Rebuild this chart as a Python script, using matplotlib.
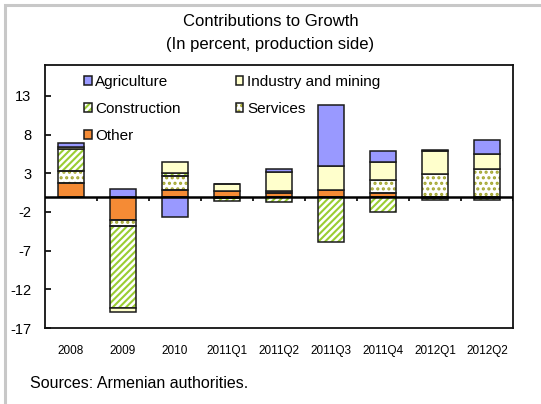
import matplotlib
matplotlib.use("Agg")
import matplotlib.pyplot as plt
from matplotlib.patches import Patch, Rectangle
import numpy as np

plt.rcParams['font.family'] = ['Liberation Sans', 'DejaVu Sans']
plt.rcParams['hatch.linewidth'] = 1.5

categories = ['2008', '2009', '2010', '2011Q1', '2011Q2', '2011Q3', '2011Q4', '2012Q1', '2012Q2']
agriculture = [0.6, 0.95, -2.65, 0.0, 0.35, 7.9, 1.4, 0.15, 1.75]
industry = [0.25, -0.55, 1.4, 0.95, 2.45, 3.1, 2.3, 2.95, 1.95]
construction = [2.75, -10.55, 0.45, -0.3, -0.75, -5.85, -1.95, -0.25, -0.25]
services = [1.55, -0.85, 1.85, -0.25, 0.25, 0.0, 1.65, 2.9, 3.6]
other = [1.8, -3.0, 0.8, 0.65, 0.45, 0.85, 0.5, -0.15, -0.15]
yticks = [-17, -12, -7, -2, 3, 8, 13]

# stacking order from zero outward
series = [
    ('Other', other, dict(color='#F58B35', hatch=None, hcolor=None)),
    ('Services', services, dict(color='white', hatch='...', hcolor='#A3A62E')),
    ('Construction', construction, dict(color='white', hatch='/////', hcolor='#9ACD32')),
    ('Industry and mining', industry, dict(color='#FFFFCC', hatch=None, hcolor=None)),
    ('Agriculture', agriculture, dict(color='#9999FF', hatch=None, hcolor=None)),
]

W, H = 541, 404
fig = plt.figure(figsize=(W / 100, H / 100), dpi=100)
ax = fig.add_axes([45 / W, 1 - 328 / H, (513 - 45) / W, (328 - 65) / H])

x = np.arange(len(categories))
pos_base = np.zeros(len(categories))
neg_base = np.zeros(len(categories))
bw = 0.5
edge = '#1a1a1a'
handles = {}
for name, vals, st in series:
    v = np.array(vals, dtype=float)
    bottom = np.where(v >= 0, pos_base, neg_base)
    if st['hatch']:
        ax.bar(x, v, bw, bottom=bottom, facecolor=st['color'], edgecolor=st['hcolor'],
               hatch=st['hatch'], linewidth=0, zorder=2)
        ax.bar(x, v, bw, bottom=bottom, fill=False, edgecolor=edge, linewidth=1.1, zorder=3)
        h = (Patch(facecolor=st['color'], edgecolor=st['hcolor'], hatch=st['hatch'], linewidth=0),
             Patch(fill=False, edgecolor=edge, linewidth=1.1))
    else:
        ax.bar(x, v, bw, bottom=bottom, facecolor=st['color'], edgecolor=edge,
               linewidth=1.1, zorder=3)
        h = Patch(facecolor=st['color'], edgecolor=edge, linewidth=1.1)
    handles[name] = h
    pos_base = pos_base + np.where(v >= 0, v, 0)
    neg_base = neg_base + np.where(v < 0, v, 0)

ax.set_xlim(-0.5, len(categories) - 0.5)
ax.set_ylim(-17, 17)
ax.set_yticks(yticks)
ax.set_yticklabels([str(t) for t in yticks], fontsize=10.5)
ax.tick_params(axis='y', direction='in', length=4, width=1.2, pad=10)
ax.set_xticks(x)
ax.set_xticklabels(categories, fontsize=8.5)
ax.tick_params(axis='x', length=0, pad=12)
for s in ax.spines.values():
    s.set_linewidth(1.3)
    s.set_color('#111111')

# zero axis line with category-boundary ticks
ax.axhline(0, color='black', linewidth=1.8, zorder=5)
bounds = np.arange(len(categories)) + 0.5
ax.vlines(bounds, -0.55, 0, color='black', linewidth=1.2, zorder=5)

order = ['Agriculture', 'Construction', 'Other', 'Industry and mining', 'Services']
leg = ax.legend([handles[k] for k in order], order, ncol=2, loc='upper left',
                bbox_to_anchor=(0.07, 0.985), frameon=False, fontsize=11,
                handlelength=0.5, handleheight=0.5, handletextpad=0.25,
                labelspacing=0.85, columnspacing=3.6, borderaxespad=0)

fig.text(0.5, 1 - 22 / H, 'Contributions to Growth', ha='center', va='center', fontsize=12)
fig.text(0.5, 1 - 44 / H, '(In percent, production side)', ha='center', va='center', fontsize=12)
fig.text(30 / W, 1 - 383 / H, 'Sources: Armenian authorities.', ha='left', va='center', fontsize=11.5)

fig.patches.append(Rectangle((4.5 / W, -0.2), 1.2, 1.2 - 4.5 / H, transform=fig.transFigure,
                             fill=False, edgecolor='#C8C8C8', linewidth=2.2))

fig.savefig('out.png', dpi=100)
